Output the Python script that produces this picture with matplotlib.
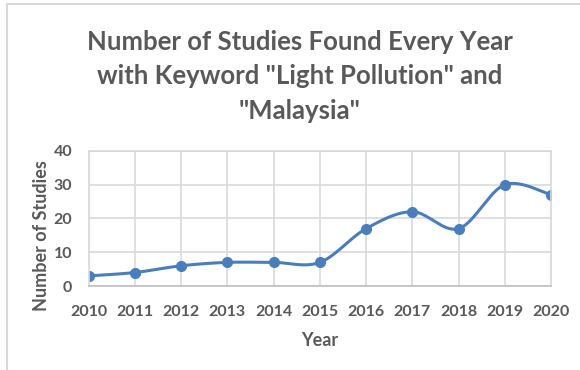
import numpy as np
import matplotlib.pyplot as plt
from matplotlib.lines import Line2D

years = [2010, 2011, 2012, 2013, 2014, 2015, 2016, 2017, 2018, 2019, 2020]
studies = [3, 4, 6, 7, 7, 7, 17, 22, 17, 30, 27]
title_lines = ['Number of Studies Found Every Year',
               'with Keyword "Light Pollution" and',
               '"Malaysia"']

GREY = '#595959'
GRID = '#d9d9d9'
BLUE = '#4a7ebb'


def smooth_curve(x, y, n=40):
    # Bezier smoothing through every point (Catmull-Rom style, like Excel's smoothed line)
    x = np.asarray(x, float)
    y = np.asarray(y, float)
    px, py = [], []
    for i in range(len(x) - 1):
        x0, y0 = (x[i - 1], y[i - 1]) if i > 0 else (x[i], y[i])
        x3, y3 = (x[i + 2], y[i + 2]) if i + 2 < len(x) else (x[i + 1], y[i + 1])
        c1x = x[i] + (x[i + 1] - x0) / 6
        c1y = y[i] + (y[i + 1] - y0) / 6
        c2x = x[i + 1] - (x3 - x[i]) / 6
        c2y = y[i + 1] - (y3 - y[i]) / 6
        t = np.linspace(0, 1, n)
        px.extend((1 - t) ** 3 * x[i] + 3 * (1 - t) ** 2 * t * c1x + 3 * (1 - t) * t ** 2 * c2x + t ** 3 * x[i + 1])
        py.extend((1 - t) ** 3 * y[i] + 3 * (1 - t) ** 2 * t * c1y + 3 * (1 - t) * t ** 2 * c2y + t ** 3 * y[i + 1])
    return px, py


plt.rcParams['font.family'] = ['Lato', 'DejaVu Sans']

fig = plt.figure(figsize=(5.8, 3.7), dpi=100)
ax = fig.add_axes([0.153, 0.227, 0.797, 0.365])

sx, sy = smooth_curve(years, studies)
ax.plot(sx, sy, color=BLUE, lw=2.2, solid_capstyle='round')
ax.plot(years, studies, 'o', color=BLUE, ms=7)

ax.set_xlim(years[0], years[-1])
ax.set_ylim(0, 40)
ax.set_xticks(years)
ax.set_yticks([0, 10, 20, 30, 40])
ax.grid(True, color=GRID, lw=1.2)
ax.set_axisbelow(True)
for side in ax.spines.values():
    side.set_color(GRID)
    side.set_linewidth(1.2)
ax.spines['bottom'].set_color('#bfbfbf')
ax.tick_params(axis='x', length=0, colors=GREY, labelsize=11.5, pad=14)
ax.tick_params(axis='y', length=0, colors=GREY, labelsize=11.5, pad=12)
for lab in ax.get_xticklabels() + ax.get_yticklabels():
    lab.set_fontweight('bold')

# axis titles
fig.text(0.552, 0.081, 'Year', ha='center', va='center', color=GREY,
         fontsize=13, fontweight='bold')
fig.text(0.071, 0.362, 'Number of Studies', ha='center', va='center', rotation=90,
         color=GREY, fontsize=13, fontweight='bold')

# chart title, one line at a time
for k, line in enumerate(title_lines):
    fig.text(0.517, 1 - (50 + 34.5 * k) / 370, line, ha='center', va='baseline',
             color=GREY, fontsize=18.5, fontweight='bold')

# chart area border (left and top edges)
fig.add_artist(Line2D([0.012, 0.012], [0, 0.989], color=GRID, lw=1.5, transform=fig.transFigure))
fig.add_artist(Line2D([0.012, 1], [0.989, 0.989], color=GRID, lw=1.5, transform=fig.transFigure))

fig.savefig('out.png', dpi=100)
